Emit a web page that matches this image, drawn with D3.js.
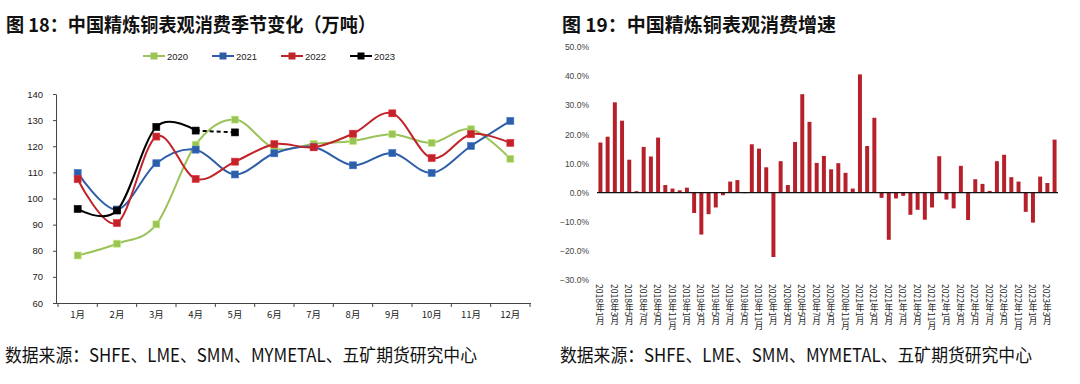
<!DOCTYPE html>
<html><head><meta charset="utf-8">
<script src="https://cdn.jsdelivr.net/npm/d3@7"></script>
<style>body{margin:0;background:#fff}svg{display:block}</style>
</head><body>
<svg id="c" width="1080" height="384"></svg>
<script>
// ---- Left chart data ----
const months = ["1月","2月","3月","4月","5月","6月","7月","8月","9月","10月","11月","12月"];
const seriesNames = ["2020","2021","2022","2023"];
const seriesColors = ["#9bc35a","#2f5ea8","#c0232a","#000000"];
const v2020 = [78.2,82.7,90.1,120.6,130.2,119.2,120.9,122.0,124.6,121.3,126.5,115.2];
const v2021 = [109.8,95.8,113.5,118.7,109.2,117.3,119.7,112.7,117.4,109.8,120.1,129.7];
const v2022 = [107.4,90.6,123.7,107.5,114.1,120.8,119.6,124.8,132.6,115.5,124.6,121.3];
const v2023 = [96.0,95.4,127.4,126.0,125.3];
const leftTicks = [60,70,80,90,100,110,120,130,140];

// ---- Right chart data ----
const periods = [];
for (let y = 2018; y <= 2023; y++) for (let m = 1; m <= 12; m++) { if (y === 2023 && m > 4) break; periods.push(y + "年" + m + "月"); }
const growth = [17.2,19.2,31.0,24.7,11.3,0.5,15.7,12.4,18.9,2.6,1.4,0.8,
  1.7,-7.0,-14.4,-7.4,-5.1,-0.9,3.8,4.3,-0.2,16.6,15.1,8.7,
  -22.1,10.8,2.6,17.4,33.8,24.3,10.2,12.6,8.0,10.1,6.8,1.4,
  40.6,16.0,25.7,-1.8,-16.2,-2.0,-1.1,-7.6,-5.9,-9.3,-5.1,12.5,
  -2.4,-5.4,9.2,-9.4,4.6,3.0,0.6,10.8,13.0,5.3,3.8,-6.6,
  -10.3,5.5,3.3,18.2];
const rightTicks = [-30,-20,-10,0,10,20,30,40,50];

const svg = d3.select("#c");
const CJK = "'Noto Sans CJK SC','Noto Sans',sans-serif";
const LAT = "'Liberation Sans',Arial,sans-serif";

// Titles & source
function txt(xp, yp, size, bold, len, s) {
  svg.append("text").attr("x",xp).attr("y",yp).attr("font-family",CJK)
    .attr("font-weight",bold?"bold":"normal").attr("font-size",size).attr("fill","#111")
    .attr("textLength",len).attr("lengthAdjust","spacingAndGlyphs").text(s);
}
txt(6, 32, 19, true, 370, "图 18：中国精炼铜表观消费季节变化（万吨）");
txt(562, 32, 19, true, 274, "图 19：中国精炼铜表观消费增速");
txt(5, 362, 18, false, 472, "数据来源：SHFE、LME、SMM、MYMETAL、五矿期货研究中心");
txt(560, 362, 18, false, 472, "数据来源：SHFE、LME、SMM、MYMETAL、五矿期货研究中心");

// ---- Left chart ----
const x = d3.scaleBand().domain(months).range([58,530]);
const y = d3.scaleLinear().domain([60,140]).range([303,94]);
const gL = svg.append("g");
const yAx = gL.append("g").attr("transform","translate(56,0)").call(d3.axisLeft(y).tickValues(leftTicks).tickSize(3).tickSizeOuter(0));
yAx.select(".domain").attr("stroke","#444");
yAx.selectAll(".tick line").attr("stroke","#444");
yAx.selectAll("text").attr("font-family",LAT).attr("font-size",9.5).attr("fill","#222").attr("dx",-7);
const xAx = gL.append("g").attr("transform","translate(0,303)").call(d3.axisBottom(x).tickSize(0).tickSizeOuter(0));
xAx.select(".domain").attr("stroke","#444").attr("d","M56,0.5H531");
xAx.selectAll("text").attr("font-family",CJK).attr("font-size",9.5).attr("fill","#222").attr("dy",12);
// ticks between categories
const bounds = months.map((m,i)=>x(m)).concat([x(months[11])+x.bandwidth()]);
gL.append("g").selectAll("line").data(bounds).join("line")
  .attr("x1",d=>d).attr("x2",d=>d).attr("y1",303).attr("y2",307).attr("stroke","#444");

const allSeries = [v2020,v2021,v2022,v2023];
const cx = (i)=>x(months[i])+x.bandwidth()/2;
const line = d3.line().x((d,i)=>cx(i)).y(d=>y(d)).curve(d3.curveCardinal.tension(0));
allSeries.forEach((vals,si)=>{
  const col = seriesColors[si];
  if (si === 3) {
    gL.append("path").datum(vals.slice(0,4)).attr("d",line).attr("fill","none").attr("stroke",col).attr("stroke-width",2);
    gL.append("line").attr("x1",cx(3)).attr("y1",y(vals[3])).attr("x2",cx(4)).attr("y2",y(vals[4]))
      .attr("stroke",col).attr("stroke-width",2).attr("stroke-dasharray","4,3");
  } else {
    gL.append("path").datum(vals).attr("d",line).attr("fill","none").attr("stroke",col).attr("stroke-width",2);
  }
  gL.append("g").selectAll("rect").data(vals).join("rect")
    .attr("x",(d,i)=>cx(i)-3.5).attr("y",d=>y(d)-3.5).attr("width",7).attr("height",7)
    .attr("fill",col).attr("stroke",d3.color(col).brighter(0.6)).attr("stroke-width",0.6);
});
// legend
const legX = [143,212,281,350];
seriesNames.forEach((n,i)=>{
  const g = svg.append("g").attr("transform",`translate(${legX[i]},56)`);
  g.append("line").attr("x1",0).attr("x2",22).attr("stroke",seriesColors[i]).attr("stroke-width",2);
  g.append("rect").attr("x",7.5).attr("y",-3.5).attr("width",7).attr("height",7).attr("fill",seriesColors[i]);
  g.append("text").attr("x",24).attr("y",3.5).attr("font-family",LAT).attr("font-size",9.5).attr("fill","#222").text(n);
});

// ---- Right chart ----
const xr = d3.scaleBand().domain(periods).range([597,1058]).paddingInner(0.45).paddingOuter(0.2);
const yr = d3.scaleLinear().domain([-30,50]).range([280,47]);
const gR = svg.append("g");
gR.append("g").selectAll("rect").data(growth).join("rect")
  .attr("x",(d,i)=>xr(periods[i])).attr("width",xr.bandwidth())
  .attr("y",d=>yr(Math.max(0,d))).attr("height",d=>Math.abs(yr(d)-yr(0)))
  .attr("fill","#b5202a");
gR.append("line").attr("x1",597).attr("x2",1058).attr("y1",yr(0)).attr("y2",yr(0)).attr("stroke","#111").attr("stroke-width",1.2);
const yrAx = gR.append("g").attr("transform","translate(592,0)").call(d3.axisLeft(yr).tickValues(rightTicks).tickSize(0).tickFormat(d=>d3.format(".1f")(d)+"%"));
yrAx.select(".domain").remove();
yrAx.selectAll("text").attr("font-family",LAT).attr("font-size",8.5).attr("fill","#444").attr("dx",0);
// vertical x labels every other month (CJK upright, digits rotated)
gR.append("g").selectAll("text").data(periods.filter((p,i)=>i%2===0)).join("text")
  .attr("x",d=>xr(d)+xr.bandwidth()/2).attr("y",284)
  .style("writing-mode","vertical-rl").style("text-orientation","mixed")
  .attr("font-family",CJK).attr("font-size",8.6).attr("fill","#222").text(d=>d);
</script>
</body></html>
